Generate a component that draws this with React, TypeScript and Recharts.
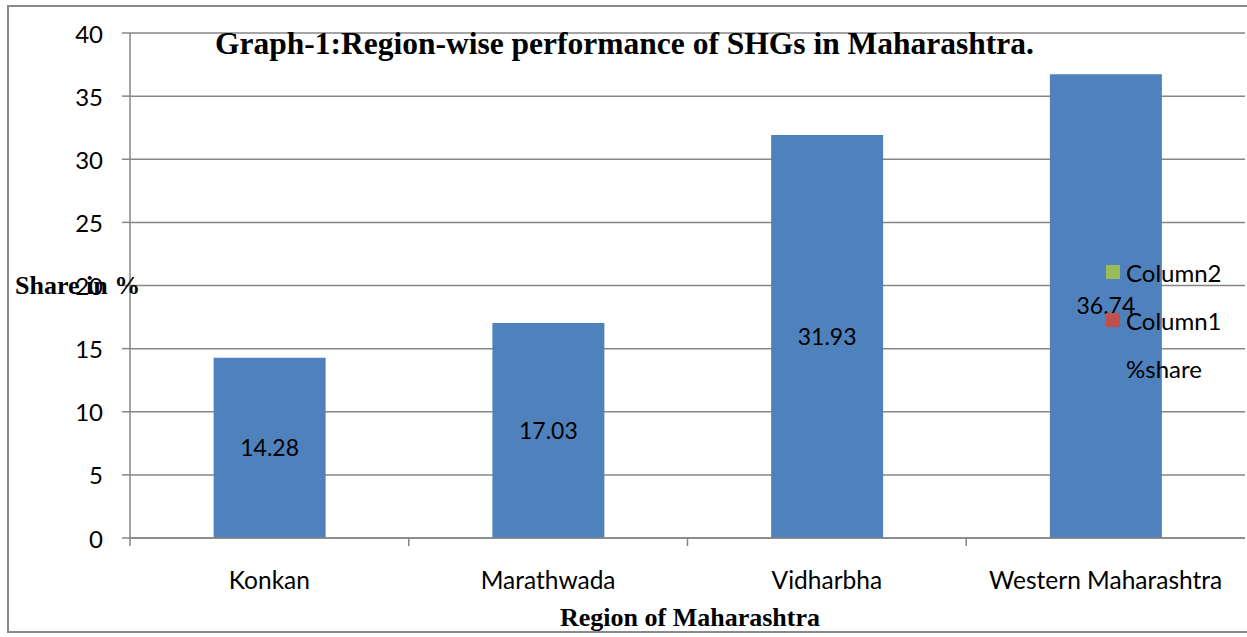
import React from "react";
import { BarChart, Bar, XAxis, YAxis, CartesianGrid, LabelList } from "recharts";

const categories = ["Konkan", "Marathwada", "Vidharbha", "Western Maharashtra"];
const shareValues = [14.28, 17.03, 31.93, 36.74];
const yTicks = [0, 5, 10, 15, 20, 25, 30, 35, 40];
const legendNames = ["Column2", "Column1", "%share"];
const legendColors = ["#9BBB59", "#C0504D", "#4F81BD"];

const data = categories.map((c, i) => ({ region: c, share: shareValues[i] }));

const W = 1247;
const H = 637;
const MARGIN = { top: 33, right: 2, left: 70, bottom: 39 };
const YAXIS_W = 60;
const XAXIS_H = 60;
const PLOT_W = W - MARGIN.left - MARGIN.right - YAXIS_W;
const BAND = PLOT_W / categories.length;

const GRID = "#868686";
const SANS = "Lato, 'Open Sans', sans-serif";
const SERIF = "'Liberation Serif', 'Times New Roman', serif";

const YTick = (props: any) => {
  const { x, y, payload } = props;
  return (
    <g>
      <line x1={x - 8} y1={y} x2={x} y2={y} stroke={GRID} strokeWidth={1.5} />
      <text x={x - 27} y={y} textAnchor="end" dominantBaseline="central" fontFamily={SANS} fontSize={24} fill="#000">
        {payload.value}
      </text>
    </g>
  );
};

const XTick = (props: any) => {
  const { x, y, payload } = props;
  const bx = x - BAND / 2;
  return (
    <g>
      <line x1={bx} y1={y} x2={bx} y2={y + 8} stroke={GRID} strokeWidth={1.5} />
      <text x={x} y={y + 51} textAnchor="middle" fontFamily={SANS} fontSize={24.5} fill="#000">
        {payload.value}
      </text>
    </g>
  );
};

export default function App() {
  return (
    <div style={{ position: "fixed", left: 0, top: 0, width: W, height: H, overflow: "hidden", background: "#fff" }}>
      <div style={{ position: "absolute", left: 7, top: 5, width: 1260, height: 628, border: "2px solid #8a8a8a", boxSizing: "border-box" }} />
      <div style={{ position: "absolute", left: 0, top: 0 }}>
        <BarChart width={W} height={H} data={data} margin={MARGIN} barCategoryGap="30%">
          <CartesianGrid vertical={false} stroke={GRID} strokeWidth={1.5} />
          <XAxis
            dataKey="region"
            height={XAXIS_H}
            tickLine={false}
            tickSize={0}
            tickMargin={0}
            axisLine={{ stroke: GRID, strokeWidth: 1.5 }}
            tick={<XTick />}
            interval={0}
          />
          <YAxis
            width={YAXIS_W}
            domain={[0, 40]}
            ticks={yTicks}
            tickLine={false}
            tickSize={0}
            tickMargin={0}
            axisLine={{ stroke: GRID, strokeWidth: 1.5 }}
            tick={<YTick />}
            interval={0}
          />
          <Bar dataKey="share" fill="#4F81BD" isAnimationActive={false}>
            <LabelList dataKey="share" position="center" fill="#000" fontFamily={SANS} fontSize={23} />
          </Bar>
        </BarChart>
      </div>
      <div style={{ position: "absolute", left: 1106, top: 248, fontFamily: SANS, fontSize: 24, color: "#000" }}>
        {legendNames.map((n, i) => (
          <div key={n} style={{ display: "flex", alignItems: "center", height: 48, whiteSpace: "nowrap" }}>
            <span style={{ display: "inline-block", width: 14, height: 14, background: legendColors[i], marginRight: 6 }} />
            <span>{n}</span>
          </div>
        ))}
      </div>
      <div style={{ position: "absolute", left: 215, top: 26, fontFamily: SERIF, fontWeight: "bold", fontSize: 31.5, lineHeight: "36px", whiteSpace: "nowrap" }}>
        Graph-1:Region-wise performance of SHGs in Maharashtra.
      </div>
      <div style={{ position: "absolute", left: 15, top: 271, fontFamily: SERIF, fontWeight: "bold", fontSize: 26, lineHeight: "30px", whiteSpace: "nowrap" }}>
        Share in %
      </div>
      <div style={{ position: "absolute", left: 0, width: 1380, top: 603, textAlign: "center", fontFamily: SERIF, fontWeight: "bold", fontSize: 26, lineHeight: "30px", whiteSpace: "nowrap" }}>
        Region of Maharashtra
      </div>
    </div>
  );
}
